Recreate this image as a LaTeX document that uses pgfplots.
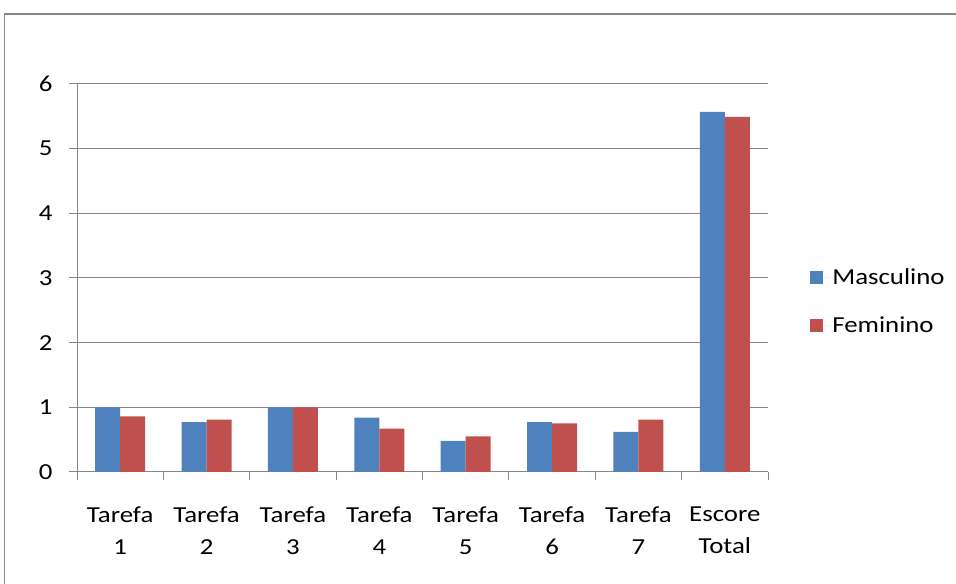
\documentclass[border=0pt]{standalone}
\usepackage{fontspec}
\setmainfont{Carlito}[FakeStretch=1.17]
\usepackage{pgfplots}
\pgfplotsset{compat=1.18}
\definecolor{masc}{HTML}{4F81BD}
\definecolor{fem}{HTML}{C0504D}
\definecolor{gridc}{HTML}{868686}
\begin{document}
\begin{tikzpicture}[x=1bp,y=1bp]
\useasboundingbox (0,0) rectangle (956,584);
\draw[gridc, line width=1.5bp] (4.5,-20) -- (4.5,570) -- (990,570);
\begin{axis}[
  at={(77bp,112bp)}, anchor=south west,
  scale only axis, width=691bp, height=388bp,
  xmin=-0.5, xmax=7.5, ymin=0, ymax=6,
  ybar=0pt, bar width=25bp,
  xtick={0,...,7},
  xticklabels={{Tarefa\\1},{Tarefa\\2},{Tarefa\\3},{Tarefa\\4},{Tarefa\\5},{Tarefa\\6},{Tarefa\\7},{Escore\\Total}},
  major x tick style={draw=none},
  minor xtick={-0.5,0.5,...,7.5},
  tick align=outside, major tick length=8bp, minor tick length=8bp,
  ytick={0,...,6},
  ymajorgrids, grid style={gridc, line width=1bp},
  axis x line*=bottom, axis y line*=left,
  axis line style={gridc, line width=1bp, -},
  tick style={gridc, line width=1bp},
  /pgf/number format/assume math mode=true,
  ticklabel style={font=\fontsize{23}{32}\selectfont, text=black},
  xticklabel style={align=center, anchor=north, yshift=-23bp},
  yticklabel style={anchor=east, xshift=-13bp},
  legend style={draw=none, fill=none, at={(1.061,0.44)}, anchor=west, inner sep=0pt,
    font=\fontsize{23}{28}\selectfont, row sep=27bp, cells={anchor=west}},
  legend image code/.code={\path (0bp,0bp) -- (20bp,0bp); \fill[#1] (0bp,-6.5bp) rectangle (13bp,6.5bp);},
]
\addplot[fill=masc, draw=none] coordinates {(0,1.0) (1,0.77) (2,1.0) (3,0.84) (4,0.48) (5,0.77) (6,0.62) (7,5.57)};
\addplot[fill=fem, draw=none] coordinates {(0,0.86) (1,0.81) (2,1.0) (3,0.67) (4,0.55) (5,0.75) (6,0.81) (7,5.49)};
\legend{Masculino, Feminino}
\end{axis}
\end{tikzpicture}
\end{document}
